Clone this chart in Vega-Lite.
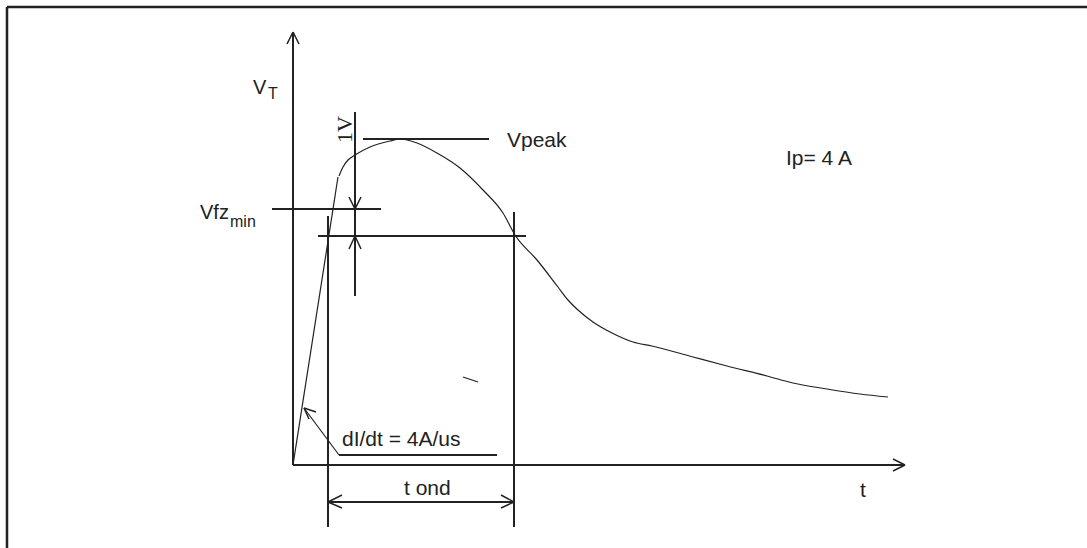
{
  "$schema": "https://vega.github.io/schema/vega-lite/v6.json",
  "width": 1087,
  "height": 548,
  "padding": 0,
  "autosize": {"type": "fit", "contains": "padding"},
  "background": "white",
  "config": {"view": {"stroke": null}},
  "datasets": {
    "frame": [
      {"x": -286, "y": 458, "x2": 794, "y2": 458},
      {"x": -286, "y": 458, "x2": -286, "y2": -83}
    ],
    "thick": [
      {"x": 0, "y": 0, "x2": 0, "y2": 433},
      {"x": 0, "y": 0, "x2": 612, "y2": 0},
      {"x": 70, "y": 326, "x2": 196, "y2": 326},
      {"x": 62, "y": 353, "x2": 62, "y2": 169},
      {"x": -21, "y": 256, "x2": 88, "y2": 256},
      {"x": 25, "y": 229, "x2": 233, "y2": 229},
      {"x": 35, "y": 249, "x2": 35, "y2": -62},
      {"x": 221, "y": 253, "x2": 221, "y2": -62},
      {"x": 35, "y": -37, "x2": 221, "y2": -37},
      {"x": 46, "y": 10, "x2": 204, "y2": 10}
    ],
    "heads": [
      {"x": 0, "y": 433, "x2": -6, "y2": 421},
      {"x": 0, "y": 433, "x2": 6, "y2": 421},
      {"x": 612, "y": 0, "x2": 600, "y2": 6},
      {"x": 612, "y": 0, "x2": 600, "y2": -6},
      {"x": 62, "y": 256, "x2": 56, "y2": 268},
      {"x": 62, "y": 256, "x2": 68, "y2": 268},
      {"x": 62, "y": 229, "x2": 56, "y2": 216},
      {"x": 62, "y": 229, "x2": 68, "y2": 216},
      {"x": 35, "y": -37, "x2": 49, "y2": -30},
      {"x": 35, "y": -37, "x2": 49, "y2": -43},
      {"x": 221, "y": -37, "x2": 208, "y2": -30},
      {"x": 221, "y": -37, "x2": 208, "y2": -43},
      {"x": 11, "y": 57, "x2": 23, "y2": 53},
      {"x": 11, "y": 57, "x2": 16, "y2": 46}
    ],
    "thin": [
      {"x": 0, "y": 0, "x2": 45, "y2": 288},
      {"x": 46, "y": 10, "x2": 11, "y2": 57},
      {"x": 170, "y": 88, "x2": 185, "y2": 83}
    ],
    "curve": [
      {"t": 46, "v": 289},
      {"t": 50, "v": 298},
      {"t": 55, "v": 305},
      {"t": 62, "v": 310},
      {"t": 77, "v": 318},
      {"t": 97, "v": 324},
      {"t": 107, "v": 326},
      {"t": 124, "v": 322},
      {"t": 144, "v": 312},
      {"t": 167, "v": 297},
      {"t": 190, "v": 275},
      {"t": 210, "v": 252},
      {"t": 222, "v": 230},
      {"t": 244, "v": 205},
      {"t": 265, "v": 178},
      {"t": 275, "v": 165},
      {"t": 285, "v": 155},
      {"t": 300, "v": 143},
      {"t": 319, "v": 132},
      {"t": 340, "v": 123},
      {"t": 359, "v": 119},
      {"t": 400, "v": 108},
      {"t": 434, "v": 99},
      {"t": 474, "v": 89},
      {"t": 500, "v": 82},
      {"t": 534, "v": 76},
      {"t": 567, "v": 71},
      {"t": 595, "v": 68}
    ],
    "labels": [
      {"x": 214, "y": 318, "text": "Vpeak"},
      {"x": 493, "y": 300, "text": "Ip= 4 A"},
      {"x": 49, "y": 19, "text": "dI/dt = 4A/us"},
      {"x": 111, "y": -30, "text": "t ond"},
      {"x": 567, "y": -32, "text": "t"}
    ],
    "labels20": [
      {"x": -40, "y": 371, "text": "V"},
      {"x": -93, "y": 246, "text": "Vfz"}
    ],
    "subs": [
      {"x": -25, "y": 366.5, "text": "T"},
      {"x": -63, "y": 238, "text": "min"}
    ],
    "rotated": [
      {"x": 59, "y": 335.5, "text": "1V"}
    ]
  },
  "encoding": {
    "x": {"type": "quantitative", "scale": {"domain": [-293, 794], "nice": false, "zero": false}, "axis": null},
    "y": {"type": "quantitative", "scale": {"domain": [-83, 465], "nice": false, "zero": false}, "axis": null}
  },
  "layer": [
    {
      "data": {"name": "frame"},
      "mark": {"type": "rule", "color": "#222222", "strokeWidth": 2.5, "clip": true},
      "encoding": {"x": {"field": "x"}, "y": {"field": "y"}, "x2": {"field": "x2"}, "y2": {"field": "y2"}}
    },
    {
      "data": {"name": "thick"},
      "mark": {"type": "rule", "color": "#222222", "strokeWidth": 2},
      "encoding": {"x": {"field": "x"}, "y": {"field": "y"}, "x2": {"field": "x2"}, "y2": {"field": "y2"}}
    },
    {
      "data": {"name": "heads"},
      "mark": {"type": "rule", "color": "#222222", "strokeWidth": 1.5},
      "encoding": {"x": {"field": "x"}, "y": {"field": "y"}, "x2": {"field": "x2"}, "y2": {"field": "y2"}}
    },
    {
      "data": {"name": "thin"},
      "mark": {"type": "rule", "color": "#222222", "strokeWidth": 1.2},
      "encoding": {"x": {"field": "x"}, "y": {"field": "y"}, "x2": {"field": "x2"}, "y2": {"field": "y2"}}
    },
    {
      "data": {"name": "curve"},
      "mark": {"type": "line", "color": "#222222", "strokeWidth": 1.2, "interpolate": "monotone"},
      "encoding": {"x": {"field": "t"}, "y": {"field": "v"}}
    },
    {
      "data": {"name": "labels"},
      "mark": {"type": "text", "font": "Liberation Sans", "fontSize": 21, "align": "left", "baseline": "alphabetic", "color": "#222222"},
      "encoding": {"x": {"field": "x"}, "y": {"field": "y"}, "text": {"field": "text"}}
    },
    {
      "data": {"name": "labels20"},
      "mark": {"type": "text", "font": "Liberation Sans", "fontSize": 20, "align": "left", "baseline": "alphabetic", "color": "#222222"},
      "encoding": {"x": {"field": "x"}, "y": {"field": "y"}, "text": {"field": "text"}}
    },
    {
      "data": {"name": "subs"},
      "mark": {"type": "text", "font": "Liberation Sans", "fontSize": 16, "align": "left", "baseline": "alphabetic", "color": "#222222"},
      "encoding": {"x": {"field": "x"}, "y": {"field": "y"}, "text": {"field": "text"}}
    },
    {
      "data": {"name": "rotated"},
      "mark": {"type": "text", "font": "Liberation Serif", "fontSize": 22, "align": "center", "baseline": "alphabetic", "angle": 270, "color": "#222222"},
      "encoding": {"x": {"field": "x"}, "y": {"field": "y"}, "text": {"field": "text"}}
    }
  ]
}
